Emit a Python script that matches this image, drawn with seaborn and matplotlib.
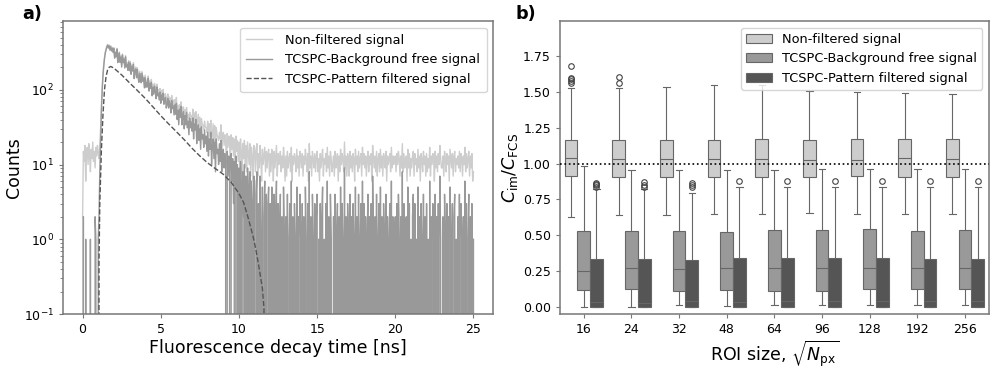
import numpy as np
import pandas as pd
import seaborn as sns
import matplotlib.pyplot as plt
from matplotlib.patches import Patch
from matplotlib.lines import Line2D

# define colors
colors = {'LIGHT': '#cdcdcd', 'MID': '#999999', 'DARK': '#555555',
          'EDGE': '#666666', 'SPINE': '#777777'}

# ---------------- panel a: decay histograms (counts per 0.05 ns bin) ----------------
bin_width = 0.05
nonfiltered_counts = [
    2, 15, 11, 18, 6, 14, 17, 10, 19, 13, 8, 16, 12, 20, 11, 15, 9, 17, 13, 18,
    14, 12, 19, 30, 60, 105, 160, 215, 270, 320, 350, 385, 405, 372, 398, 350, 389, 341, 370, 326,
    366, 277, 324, 290, 359, 240, 285, 321, 244, 283, 213, 301, 243, 268, 204, 288, 212, 231, 193, 246,
    191, 240, 170, 215, 187, 230, 153, 186, 202, 156, 197, 158, 136, 178, 155, 137, 176, 142, 152, 119,
    157, 120, 134, 121, 153, 108, 131, 116, 138, 94, 118, 99, 122, 106, 88, 119, 95, 100, 85, 104,
    75, 98, 83, 101, 73, 85, 89, 66, 75, 88, 69, 80, 77, 58, 84, 65, 73, 56, 74, 59,
    79, 49, 62, 47, 63, 55, 69, 44, 57, 59, 41, 54, 47, 58, 43, 47, 37, 50, 44, 45,
    36, 55, 30, 49, 37, 51, 31, 38, 47, 28, 43, 25, 41, 35, 33, 29, 38, 32, 31, 27,
    38, 20, 35, 24, 39, 19, 26, 35, 18, 33, 15, 31, 25, 23, 21, 27, 22, 34, 16, 25,
    27, 18, 25, 21, 9, 26, 17, 24, 20, 10, 25, 16, 23, 13, 22, 8, 24, 15, 21, 11,
    20, 9, 22, 15, 7, 19, 12, 21, 9, 18, 8, 20, 14, 10, 19, 7, 17, 13, 6, 18,
    17, 8, 15, 19, 7, 14, 9, 18, 12, 6, 16, 10, 13, 17, 8, 15, 9, 14, 16, 7,
    14, 8, 16, 12, 6, 15, 9, 13, 18, 7, 14, 10, 12, 15, 8, 13, 9, 17, 12, 6,
    13, 7, 15, 9, 12, 14, 8, 17, 6, 13, 10, 14, 12, 8, 16, 9, 13, 7, 15, 12,
    9, 14, 7, 13, 10, 16, 12, 8, 14, 6, 19, 9, 13, 7, 15, 12, 9, 14, 8, 13,
    15, 8, 12, 6, 14, 9, 13, 16, 7, 12, 10, 14, 8, 17, 9, 13, 7, 15, 12, 8,
    10, 13, 7, 15, 9, 12, 14, 6, 13, 8, 16, 10, 14, 12, 8, 20, 9, 13, 7, 14,
    12, 7, 15, 9, 13, 8, 14, 12, 6, 16, 10, 13, 8, 15, 9, 12, 14, 7, 17, 10,
    14, 9, 13, 7, 12, 15, 8, 13, 10, 14, 6, 18, 12, 9, 13, 8, 15, 7, 12, 14,
    8, 16, 9, 13, 7, 14, 12, 9, 15, 6, 13, 10, 12, 14, 8, 17, 9, 13, 10, 12,
    13, 8, 14, 10, 15, 12, 7, 13, 9, 19, 8, 14, 9, 12, 13, 6, 16, 9, 14, 7,
    12, 9, 13, 15, 7, 14, 10, 12, 8, 16, 9, 13, 6, 14, 12, 8, 15, 10, 13, 7,
    14, 8, 12, 9, 17, 7, 13, 10, 14, 12, 6, 15, 9, 13, 8, 14, 10, 18, 12, 9,
    9, 13, 7, 15, 12, 8, 14, 10, 13, 6, 16, 12, 9, 14, 7, 13, 15, 8, 12, 10,
    13, 9, 15, 8, 14, 12, 7, 13, 10, 17, 8, 14, 9, 12, 15, 7, 13, 9, 14, 6,
    8,
]
background_free_counts = [
    0, 2, 0, 0, 1, 0, 0, 0, 0, 0, 1, 0, 0, 0, 0, 0, 2, 1, 0, 0,
    1, 2, 8, 19, 49, 94, 149, 204, 259, 309, 339, 374, 394, 361, 387, 339, 378, 330, 359, 315,
    355, 265, 315, 277, 348, 231, 273, 311, 232, 274, 201, 292, 231, 257, 195, 276, 202, 219, 182, 235,
    180, 228, 161, 203, 178, 218, 141, 177, 190, 145, 188, 145, 126, 166, 146, 124, 167, 130, 143, 106,
    146, 108, 124, 109, 143, 96, 122, 104, 126, 83, 108, 87, 112, 94, 76, 109, 83, 90, 73, 93,
    66, 85, 73, 90, 64, 72, 79, 57, 63, 77, 57, 71, 64, 49, 72, 56, 61, 46, 63, 47,
    66, 40, 53, 34, 55, 43, 60, 34, 43, 51, 30, 45, 34, 50, 31, 38, 25, 42, 31, 37,
    28, 42, 22, 35, 29, 40, 19, 30, 34, 21, 30, 16, 32, 22, 25, 17, 29, 19, 24, 15,
    27, 13, 22, 16, 27, 10, 18, 22, 12, 20, 8, 22, 14, 16, 10, 19, 11, 21, 8, 15,
    16, 9, 14, 11, 0, 15, 7, 13, 10, 0, 14, 6, 12, 3, 11, 0, 13, 5, 10, 0,
    9, 0, 11, 5, 0, 8, 2, 10, 0, 7, 0, 9, 4, 0, 8, 0, 6, 3, 0, 7,
    6, 0, 4, 8, 0, 3, 0, 7, 1, 0, 5, 0, 2, 6, 0, 4, 0, 3, 5, 0,
    3, 0, 5, 1, 0, 4, 0, 2, 6, 0, 3, 0, 1, 4, 0, 2, 0, 5, 1, 0,
    2, 0, 4, 0, 1, 3, 0, 6, 0, 2, 0, 3, 1, 0, 5, 0, 2, 0, 4, 1,
    0, 3, 0, 2, 0, 5, 1, 0, 3, 0, 8, 0, 2, 0, 4, 1, 0, 3, 0, 2,
    4, 0, 1, 0, 3, 0, 2, 5, 0, 1, 0, 3, 0, 6, 0, 2, 0, 4, 1, 0,
    0, 2, 0, 4, 0, 1, 3, 0, 2, 0, 5, 0, 3, 1, 0, 9, 0, 2, 0, 3,
    1, 0, 4, 0, 2, 0, 3, 1, 0, 5, 0, 2, 0, 4, 0, 1, 3, 0, 6, 0,
    3, 0, 2, 0, 1, 4, 0, 2, 0, 3, 0, 7, 1, 0, 2, 0, 4, 0, 1, 3,
    0, 5, 0, 2, 0, 3, 1, 0, 4, 0, 2, 0, 1, 3, 0, 6, 0, 2, 0, 1,
    2, 0, 3, 0, 4, 1, 0, 2, 0, 8, 0, 3, 0, 1, 2, 0, 5, 0, 3, 0,
    1, 0, 2, 4, 0, 3, 0, 1, 0, 5, 0, 2, 0, 3, 1, 0, 4, 0, 2, 0,
    3, 0, 1, 0, 6, 0, 2, 0, 3, 1, 0, 4, 0, 2, 0, 3, 0, 7, 1, 0,
    0, 2, 0, 4, 1, 0, 3, 0, 2, 0, 5, 1, 0, 3, 0, 2, 4, 0, 1, 0,
    2, 0, 4, 0, 3, 1, 0, 2, 0, 6, 0, 3, 0, 1, 4, 0, 2, 0, 3, 0,
    1,
]
pattern_time = [0, 1.0, 1.05, 1.1, 1.2, 1.3, 1.4, 1.5, 1.6, 1.7, 1.8, 2.0, 2.5,
                3.0, 3.5, 4.0, 4.5, 5.0, 5.5, 6.0, 6.5, 7.0, 7.5, 8.0, 8.5, 9.0,
                9.5, 10.0, 10.3, 10.6, 10.9, 11.1, 11.3, 11.5, 11.6, 11.7, 25.0]
pattern_counts = [0, 0, 0.5, 3, 15, 45, 100, 150, 185, 200, 205, 195, 158,
                  124, 98, 77, 59, 45, 35, 27.5, 21.5, 16.5, 13, 10.5, 8.8, 7.4,
                  5.8, 4.1, 3.1, 1.9, 1.1, 0.7, 0.4, 0.22, 0.12, 0, 0]

# ---------------- panel b: box statistics (lo whisker, q1, median, q3, hi whisker) ----------------
roi_sizes = ['16', '24', '32', '48', '64', '96', '128', '192', '256']
signal_names = ['Non-filtered signal', 'TCSPC-Background free signal',
                'TCSPC-Pattern filtered signal']

nonfiltered_box = [(0.628, 0.911, 1.042, 1.163, 1.530),
                   (0.642, 0.910, 1.035, 1.168, 1.530),
                   (0.642, 0.909, 1.033, 1.168, 1.536),
                   (0.649, 0.908, 1.033, 1.168, 1.548),
                   (0.650, 0.907, 1.033, 1.172, 1.552),
                   (0.652, 0.909, 1.028, 1.168, 1.506),
                   (0.650, 0.913, 1.028, 1.175, 1.500),
                   (0.650, 0.909, 1.037, 1.175, 1.490),
                   (0.650, 0.909, 1.035, 1.175, 1.483)]
nonfiltered_outliers = [[1.56, 1.575, 1.59, 1.60, 1.68], [1.56, 1.605],
                        [], [], [], [], [], [], []]

background_free_box = [(0.002, 0.119, 0.247, 0.533, 0.985),
                       (0.000, 0.124, 0.271, 0.533, 0.955),
                       (0.012, 0.114, 0.264, 0.533, 0.953),
                       (0.005, 0.119, 0.271, 0.523, 0.958),
                       (0.012, 0.114, 0.271, 0.537, 0.958),
                       (0.012, 0.114, 0.271, 0.535, 0.963),
                       (0.012, 0.124, 0.271, 0.545, 0.965),
                       (0.012, 0.124, 0.271, 0.533, 0.965),
                       (0.012, 0.124, 0.271, 0.537, 0.965)]
background_free_outliers = [[], [], [], [], [], [], [], [], []]

pattern_box = [(0.0, 0.0, 0.037, 0.334, 0.825),
               (0.0, 0.0, 0.030, 0.334, 0.820),
               (0.0, 0.0, 0.040, 0.325, 0.797),
               (0.0, 0.0, 0.034, 0.339, 0.839),
               (0.0, 0.0, 0.040, 0.339, 0.839),
               (0.0, 0.0, 0.040, 0.339, 0.839),
               (0.0, 0.0, 0.040, 0.339, 0.839),
               (0.0, 0.0, 0.040, 0.337, 0.839),
               (0.0, 0.0, 0.040, 0.337, 0.839)]
pattern_outliers = [[0.84, 0.85, 0.86, 0.868], [0.838, 0.85, 0.87],
                    [0.84, 0.852, 0.865], [0.876], [0.876], [0.876],
                    [0.876], [0.876], [0.876]]


def box_sample(stats, outliers, m=6):
    '''
    Turn a five number summary (plus outliers) into a small sample whose
    quartiles and whiskers give back exactly those numbers in a boxplot.
    '''
    lo, q1, med, q3, hi = stats
    top = [hi] * (m - len(outliers)) + sorted(outliers)
    return [lo] * m + [q1] + [med] * m + [q3] * m + top


rows = []
for name, boxes, outs in zip(signal_names,
                             [nonfiltered_box, background_free_box, pattern_box],
                             [nonfiltered_outliers, background_free_outliers, pattern_outliers]):
    for roi, stats, out in zip(roi_sizes, boxes, outs):
        for v in box_sample(stats, out):
            rows.append({'roi': roi, 'signal': name, 'ratio': v})
df_box = pd.DataFrame(rows)

# ---------------- figure ----------------
plt.rcParams['font.family'] = 'DejaVu Sans'
fig = plt.figure(figsize=(9.96, 3.68), dpi=100)
ax1 = fig.add_axes([0.0633, 0.1467, 0.4317, 0.796])
ax2 = fig.add_axes([0.5622, 0.1467, 0.4307, 0.796])

decay_time = np.arange(len(nonfiltered_counts)) * bin_width
sns.lineplot(x=decay_time, y=nonfiltered_counts, color=colors['LIGHT'], lw=1,
             estimator=None, sort=False, ax=ax1)
sns.lineplot(x=decay_time, y=background_free_counts, color=colors['MID'], lw=1,
             estimator=None, sort=False, ax=ax1)
sns.lineplot(x=pattern_time, y=pattern_counts, color=colors['DARK'], lw=1,
             linestyle='--', estimator=None, sort=False, ax=ax1)
ax1.set_yscale('log')
ax1.set_ylim(0.1, 830)
ax1.set_xlim(-1.25, 26.25)
ax1.set_xlabel('Fluorescence decay time [ns]', fontsize=12.5, labelpad=2)
ax1.set_ylabel('Counts', fontsize=12.5, labelpad=1)
line_handles = [Line2D([], [], color=colors['LIGHT'], lw=1),
                Line2D([], [], color=colors['MID'], lw=1),
                Line2D([], [], color=colors['DARK'], lw=1, ls='--')]
ax1.legend(line_handles, signal_names, loc='upper right', fontsize=9.3,
           borderpad=0.5, handletextpad=1.0)

palette = [colors['LIGHT'], colors['MID'], colors['DARK']]
sns.boxplot(data=df_box, x='roi', y='ratio', hue='signal', order=roi_sizes,
            hue_order=signal_names, palette=palette, linecolor=colors['EDGE'],
            linewidth=0.8, legend=False, ax=ax2,
            flierprops=dict(marker='o', markersize=4, markerfacecolor='none',
                            markeredgecolor='#444444', markeredgewidth=0.8))
ax2.axhline(1.0, color='black', ls=':', lw=1.2, zorder=5)
ax2.set_ylim(-0.05, 1.995)
ax2.set_xlim(-0.5, 8.5)
ax2.set_yticks([0, 0.25, 0.5, 0.75, 1.0, 1.25, 1.5, 1.75])
ax2.set_yticklabels(['{:.2f}'.format(v) for v in ax2.get_yticks()])
ax2.set_xlabel(r'ROI size, $\sqrt{N_{\rm px}}$', fontsize=12.5, labelpad=2)
ax2.set_ylabel(r'$C_{\rm im}/C_{\rm FCS}$', fontsize=12.5, labelpad=2)
patch_handles = [Patch(facecolor=c, edgecolor=colors['EDGE'], lw=0.8) for c in palette]
ax2.legend(patch_handles, signal_names, loc='upper right', fontsize=9.3)

for ax in (ax1, ax2):
    for spine in ax.spines.values():
        spine.set_color(colors['SPINE'])
        spine.set_linewidth(1.1)
    ax.tick_params(labelsize=9, color=colors['SPINE'], length=3)
    ax.tick_params(which='minor', color=colors['SPINE'], length=2)

fig.text(0.022, 0.948, 'a)', fontsize=12.7, fontweight='bold')
fig.text(0.518, 0.948, 'b)', fontsize=12.7, fontweight='bold')

fig.savefig('out.png', dpi=100)
